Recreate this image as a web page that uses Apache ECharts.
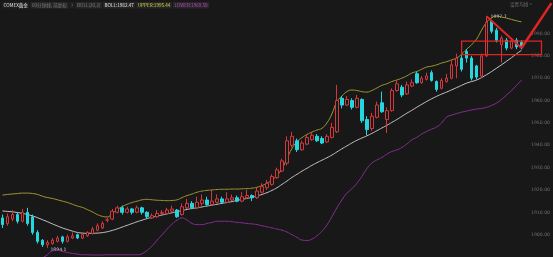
<!DOCTYPE html>
<html><head><meta charset="utf-8">
<script src="https://cdn.jsdelivr.net/npm/echarts@6/dist/echarts.min.js"></script>
<style>html,body{margin:0;padding:0;background:#181818;}#c{width:553px;height:257px;}</style>
</head><body><div id="c"></div>
<script>
// ---- data ----
const openV = [1907.5,1905,1907,1909,1906,1910,1908,1901,1897.5,1895.5,1896,1897,1899,1897,1898.5,1900,1898.5,1899.5,1900.5,1902,1903,1906.5,1907,1910,1912,1910,1911.5,1910,1912,1910,1907.5,1908,1909.5,1909.5,1910.5,1911,1909,1912,1914,1912,1914,1915.5,1913.5,1914.5,1916,1914.5,1915.5,1916.5,1915,1916.5,1917.5,1916.5,1919,1921,1922.5,1925.5,1928.5,1932,1940,1942,1938,1940.5,1942.5,1944,1943,1941.5,1943.5,1946,1961,1958,1960,1957,1960.5,1951.5,1947.5,1952.5,1959,1951.5,1955.5,1964.5,1966,1963,1966.5,1972,1968,1969.5,1972.5,1968.5,1965.5,1968.5,1970,1975.5,1979,1982,1979,1975.5,1971,1980,1995.5,1991.5,1985,1987,1983.5,1987,1986];
const closeV = [1904.5,1908,1909,1906,1910,1905,1901,1897,1895.5,1896.5,1897.5,1898.5,1897,1899,1899.5,1898.5,1900,1901,1902.5,1904,1905,1906.6,1910.5,1912,1910,1911.5,1910,1912,1910,1908,1908.5,1909.5,1910,1911,1911.5,1908,1912.5,1914,1912,1914.5,1915.5,1913.5,1915,1916,1914.5,1916,1916.5,1915,1917,1917.5,1916.5,1919.5,1921.5,1923,1926,1929,1933,1942,1944,1938,1941,1943.5,1944.5,1942,1941,1944,1948,1960,1958,1960.5,1957,1961,1951,1947,1953,1958,1955,1955.5,1964.5,1967.5,1962.5,1967,1968,1968,1970,1971,1969,1965,1969,1970,1976,1979,1974,1979,1970,1970.5,1980,1995,1991,1987,1988,1983.5,1986.5,1984,1984];
const lowV = [1903,1904,1906,1905,1905.5,1904,1900,1896,1894.5,1894.1,1895.5,1896.5,1896,1896.5,1898,1898,1898,1899,1900,1901.5,1902.5,1905.5,1906.5,1909.5,1909,1909.5,1909,1909.5,1909,1907,1907,1907.5,1909,1909,1910,1907.5,1908.5,1911.5,1911.5,1911.5,1913,1913,1913,1914,1914,1914,1915,1914.5,1914.5,1916,1915,1916,1918.5,1920,1922,1925,1928,1931,1939,1937,1937.5,1940,1942,1941.5,1940.5,1941,1943,1945.5,1956.5,1957.5,1956,1956.5,1950,1944.5,1946.5,1952,1954.5,1945.5,1955,1964,1961.5,1962.5,1966,1967.5,1967.5,1969,1968.5,1964,1965,1968,1969.5,1970,1973,1977,1969,1969.5,1970,1979.5,1990,1986,1977,1982.5,1983,1983,1983];
const highV = [1909,1909.5,1911,1910,1911.5,1912,1909,1902,1898,1897.5,1898.5,1899.5,1899.5,1900,1901,1900.5,1901,1901.5,1903.5,1905,1906,1907.5,1911.5,1913,1913,1912.5,1912,1913,1912.5,1910.5,1909.5,1911,1911,1912,1913,1911.5,1914,1916,1915,1917,1918,1917,1920,1918,1917,1919,1918,1917.5,1919,1920,1918,1921,1923,1924.5,1927,1930,1934,1944,1946,1943,1942,1945,1946,1945,1944,1945,1950,1967,1962,1962,1961,1962.5,1961,1953,1954.5,1959.5,1964,1957,1965.5,1969,1967,1968.5,1969.5,1973,1971,1972.5,1973.5,1969,1970,1972,1978,1981,1983,1983,1980,1976,1981,1997.7,1996,1992.5,1989,1988,1988,1988,1987];
const upperV = [1917.7,1918,1918.2,1918.4,1918.6,1918.6,1918.4,1918,1917.2,1916.6,1916.2,1915.6,1915,1914.4,1913.6,1912.8,1912.2,1911.2,1910.2,1909,1908.2,1907.9,1909.5,1911.2,1912.6,1913.6,1914.4,1915,1915.6,1915.8,1915.6,1915.4,1915.3,1915.2,1915.3,1915.6,1916.6,1917.5,1918.2,1919,1919.5,1919.8,1920,1920.2,1920.3,1920.3,1920.4,1920.4,1920.5,1920.6,1920.8,1921.2,1922,1923,1924.5,1926.5,1929.5,1934,1938.5,1941.6,1943.4,1944.8,1945.9,1946.8,1947.6,1950,1954,1959.5,1962,1964,1964.7,1964.5,1964,1963.8,1964.5,1965.6,1966.8,1967.5,1968.5,1969.2,1970,1971,1972.3,1973,1974,1975,1975.4,1976,1976.8,1977.4,1978.2,1979,1980.8,1983,1985,1987.5,1991.5,1995,1997,1997.8,1997.4,1996.9,1996.3,1995.7,1995.2];
const midV = [1910.6,1910.4,1910.2,1909.9,1909.5,1909,1908.4,1907.6,1906.7,1905.8,1904.8,1903.9,1903,1902.3,1901.6,1901,1900.7,1900.6,1900.6,1900.7,1900.9,1901.3,1901.9,1902.6,1903.4,1904.2,1905,1905.8,1906.5,1907.2,1907.8,1908.3,1908.8,1909.3,1909.8,1910.3,1910.8,1911.3,1911.7,1912,1912.4,1912.8,1913.2,1913.6,1914,1914.4,1914.8,1915.3,1915.8,1916.2,1916.7,1917.3,1918,1918.8,1919.8,1921,1922.5,1924,1925.6,1927,1928.4,1929.7,1931,1932.2,1933.3,1934.4,1935.6,1937,1938.4,1939.7,1941,1942.2,1943.2,1944.2,1945.3,1946.5,1947.7,1948.9,1950.2,1951.5,1952.9,1954.3,1955.6,1957,1958.3,1959.6,1960.8,1961.9,1962.9,1963.8,1964.8,1965.8,1966.8,1967.8,1968.5,1969.2,1970.3,1971.6,1973,1974.5,1976,1977.6,1979.2,1980.9,1982.5];
const lowerV = [1886,1885.5,1885,1884.8,1885,1885.5,1886.5,1888,1889.5,1891,1892.8,1893,1892.5,1892,1891.6,1891.3,1891,1891,1890.9,1890.9,1890.9,1891,1891,1891,1891,1891,1891,1891,1891.5,1893,1895,1897.6,1900,1902.5,1904.8,1906.5,1907.5,1906.5,1905,1904.5,1904.5,1905,1905.5,1906,1906,1906,1905.8,1905.5,1905.3,1905,1904.8,1904.5,1904,1903.5,1903,1902.5,1902,1901.2,1900,1898.8,1897.6,1897.4,1898,1899.5,1901.5,1904.3,1908,1912,1915.5,1918.5,1920.5,1923,1926,1929.5,1932,1933.4,1934.5,1936,1937.2,1937.9,1939,1940.5,1942.4,1943.5,1945,1946.2,1947.2,1948.2,1950,1952.6,1953.5,1954.2,1954.8,1955.3,1955.8,1956.2,1956.5,1957,1957.8,1958.9,1960.5,1962.5,1964.5,1966.8,1969.2];
const categories = openV.map((_, i) => String(i + 1));
const yTicks = [1900, 1910, 1920, 1930, 1940, 1950, 1960, 1970, 1980, 1990];
const highLabel = '1997.7', lowLabel = '1894.1';
const header = [
  {t: 'COMEX黄金', c: '#e6e6e6', bg: '#1f1f1f'},
  {t: '60分钟线, 前复权', c: '#7a7a7a', bg: '#262626'},
  {t: '?', c: '#7a7a7a', bg: '#1f1f1f'},
  {t: 'BOLL(20,2)', c: '#7a7a7a', bg: '#262626'},
  {t: 'BOLL:1982.47', c: '#e6e6e6', bg: '#262626'},
  {t: 'UPPER:1995.44', c: '#d8d040', bg: '#262626'},
  {t: 'LOWER:1969.50', c: '#c040c8', bg: '#262626'}
];

const ohlc = openV.map((o, i) => [o, closeV[i], lowV[i], highV[i]]);
const chart = echarts.init(document.getElementById('c'));
const lineS = (name, data, color) => ({name, type: 'line', data, symbol: 'none', smooth: true, clip: true,
  lineStyle: {color, width: 1}, z: 3, silent: true});
chart.setOption({
  animation: false,
  backgroundColor: '#181818',
  grid: {left: 0, right: 25, top: 0, bottom: 0},
  xAxis: {type: 'category', data: categories, show: false, boundaryGap: true},
  yAxis: {type: 'value', position: 'right', min: 1890, max: 2005, interval: 10, scale: true,
    axisLine: {show: false}, axisTick: {show: false}, splitLine: {show: false},
    axisLabel: {fontSize: 4.6, color: '#6e6e6e', margin: 7, fontFamily: 'DejaVu Sans',
      formatter: v => yTicks.indexOf(v) >= 0 ? v.toFixed(2) : ''}},
  series: [
    {type: 'candlestick', data: ohlc, barWidth: '62%', z: 4,
      itemStyle: {color: '#181818', color0: '#26d6de', borderColor: '#d4383c', borderColor0: '#26d6de', borderWidth: 1}},
    lineS('UPPER', upperV, '#a09a32'),
    lineS('MID', midV, '#c8c8c8'),
    lineS('LOWER', lowerV, '#8a2c96')
  ]
});

const P = (i, v) => chart.convertToPixel({xAxisIndex: 0, yAxisIndex: 0}, [i, v]);
const FONT = '4.6px "Noto Sans CJK SC", sans-serif';
const ctx = document.createElement('canvas').getContext('2d');
ctx.font = FONT;
const g = [];
let hx = 2;
header.forEach(h => {
  g.push({type: 'text', x: hx, y: 2, style: {text: h.t, fill: h.c, font: FONT, backgroundColor: h.bg, padding: [1, 1.5]}});
  hx += ctx.measureText(h.t).width + 4;
});
g.push({type: 'text', x: 510, y: 2, style: {text: '设置均线 >', fill: '#6a6a6a', font: FONT}});
// high / low labels
const ph = P(97, 1997.7), pl = P(9, 1894.1);
g.push({type: 'text', x: ph[0] + 4, y: ph[1] - 2, style: {text: highLabel, fill: '#d8d8d8', font: '4.6px "DejaVu Sans", sans-serif'}});
g.push({type: 'text', x: pl[0] + 3, y: pl[1] - 1, style: {text: lowLabel, fill: '#d8d8d8', font: '4.6px "DejaVu Sans", sans-serif'}});
// red annotations
const r1 = P(91.9, 1986.6), r2 = P(107.6, 1980.6);
g.push({type: 'rect', shape: {x: r1[0], y: r1[1], width: r2[0] - r1[0], height: r2[1] - r1[1]},
  style: {fill: 'none', stroke: '#e02424', lineWidth: 1.3}, z: 10});
const a = P(97, 1997.7), b = P(104.3, 1983.5), c = P(109.8, 2003.6);
g.push({type: 'line', shape: {x1: a[0], y1: a[1], x2: b[0], y2: b[1]}, style: {stroke: '#e02424', lineWidth: 2}, z: 10});
g.push({type: 'line', shape: {x1: b[0], y1: b[1], x2: c[0], y2: c[1]}, style: {stroke: '#e02424', lineWidth: 2.5}, z: 10});
chart.setOption({graphic: g});
</script></body></html>
